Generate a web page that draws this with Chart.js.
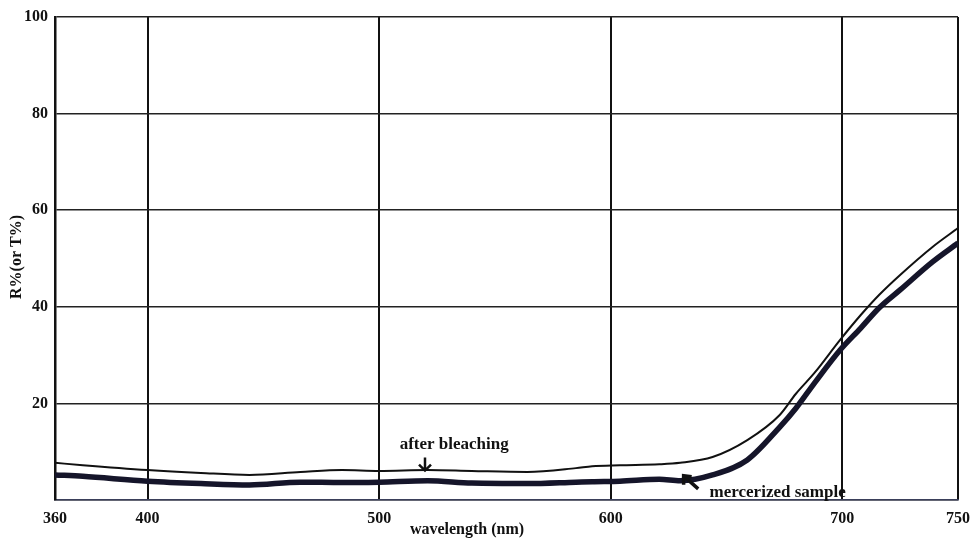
<!DOCTYPE html>
<html>
<head>
<meta charset="utf-8">
<script src="https://cdn.jsdelivr.net/npm/chart.js@4/dist/chart.umd.min.js"></script>
<style>
  body { margin: 0; background: #fff; }
  #wrap { width: 972px; height: 539px; }
</style>
</head>
<body>
<div id="wrap"><canvas id="chart"></canvas></div>
<script>
// wavelength (nm) and R%
const wavelength = [360, 372, 400, 423, 444, 466, 484, 500, 521, 540, 564, 585, 592, 604, 621, 630, 644, 659, 673, 680, 688, 699, 708, 716, 725, 739, 750];
const afterBleaching = [7.7, 7.2, 6.2, 5.6, 5.2, 5.8, 6.2, 6.0, 6.2, 6.0, 5.8, 6.6, 7.0, 7.2, 7.4, 7.7, 8.9, 12.4, 17.6, 22.0, 26.3, 33.1, 38.3, 42.5, 46.6, 52.4, 56.3];
const mercerized = [5.2, 4.9, 3.9, 3.4, 3.1, 3.7, 3.6, 3.7, 4.0, 3.5, 3.4, 3.7, 3.8, 3.9, 4.3, 4.0, 5.2, 8.3, 15.1, 19.0, 24.2, 31.0, 35.6, 39.8, 43.5, 49.3, 53.2];
const xTicks = [360, 400, 500, 600, 700, 750];
const yTicks = [0, 20, 40, 60, 80, 100];

const serif = '"Liberation Serif", "DejaVu Serif", serif';

function pts(ys) {
  return wavelength.map((x, i) => ({ x: x, y: ys[i] }));
}

// labels and arrows drawn on the plot
const notes = {
  id: 'notes',
  afterDatasetsDraw(chart) {
    const { ctx, scales: { x, y } } = chart;
    ctx.save();
    ctx.fillStyle = '#111';
    ctx.strokeStyle = '#111';
    ctx.font = 'bold 17px ' + serif;
    ctx.textAlign = 'center';
    ctx.textBaseline = 'middle';
    ctx.fillText('after bleaching', x.getPixelForValue(532.4), y.getPixelForValue(11.4));
    ctx.fillText('mercerized sample', x.getPixelForValue(672.1), y.getPixelForValue(1.6));

    // down arrow
    const ax = x.getPixelForValue(519.8);
    const a0 = y.getPixelForValue(8.8), a1 = y.getPixelForValue(6.1);
    ctx.lineWidth = 2.5;
    ctx.beginPath();
    ctx.moveTo(ax, a0); ctx.lineTo(ax, a1);
    ctx.moveTo(ax - 6, a1 - 6); ctx.lineTo(ax, a1); ctx.lineTo(ax + 6, a1 - 6);
    ctx.stroke();

    // up-left arrow
    const tx = x.getPixelForValue(631.5), ty = y.getPixelForValue(5.0);
    const bx = x.getPixelForValue(637.8), by = y.getPixelForValue(2.3);
    ctx.lineWidth = 3.5;
    ctx.beginPath();
    ctx.moveTo(bx, by); ctx.lineTo(tx, ty);
    ctx.moveTo(tx, ty + 9); ctx.lineTo(tx, ty); ctx.lineTo(tx + 8, ty + 1);
    ctx.stroke();

    // axis titles
    ctx.font = 'bold 16px ' + serif;
    ctx.fillText('wavelength (nm)', 467, 530);
    ctx.translate(17, 257);
    ctx.rotate(-Math.PI / 2);
    ctx.fillText('R%(or T%)', 0, 0);
    ctx.restore();
  }
};

new Chart(document.getElementById('chart'), {
  type: 'line',
  data: {
    datasets: [{
      label: 'after bleaching',
      data: pts(afterBleaching),
      borderColor: '#111',
      borderWidth: 2,
      pointRadius: 0,
      cubicInterpolationMode: 'monotone'
    }, {
      label: 'mercerized sample',
      data: pts(mercerized),
      borderColor: '#15152a',
      borderWidth: 5.5,
      pointRadius: 0,
      cubicInterpolationMode: 'monotone'
    }]
  },
  options: {
    responsive: true,
    maintainAspectRatio: false,
    animation: false,
    layout: { padding: { top: 17, right: 14, left: 0, bottom: 0 } },
    plugins: { legend: { display: false }, tooltip: { enabled: false } },
    scales: {
      x: {
        type: 'linear',
        min: 360,
        max: 750,
        afterBuildTicks: s => { s.ticks = xTicks.map(v => ({ value: v })); },
        afterFit: s => { s.height = 39; s.paddingRight = 0; s.paddingLeft = 0; },
        grid: { color: '#111', lineWidth: 2, drawTicks: false },
        border: { color: '#3a3f5a', width: 1.5 },
        ticks: {
          color: '#111',
          padding: 9,
          maxRotation: 0,
          autoSkip: false,
          font: { family: serif, size: 16, weight: 'bold' }
        }
      },
      y: {
        min: 0,
        max: 100,
        afterBuildTicks: s => { s.ticks = yTicks.map(v => ({ value: v })); },
        afterFit: s => { s.width = 55; },
        grid: { color: '#222', lineWidth: 1.5, drawTicks: false },
        border: { color: '#111', width: 2.5 },
        ticks: {
          color: '#111',
          padding: 7,
          callback: v => (v === 0 ? '' : v),
          font: { family: serif, size: 16, weight: 'bold' }
        }
      }
    }
  },
  plugins: [notes]
});
</script>
</body>
</html>
